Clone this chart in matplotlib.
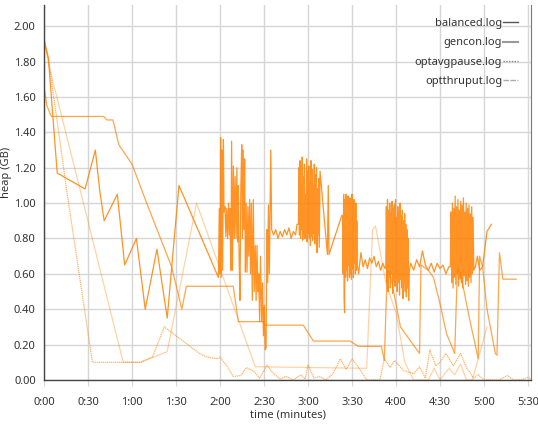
#!/usr/bin/env python3

import matplotlib

matplotlib.use("Agg")

import matplotlib.pyplot as plt
import numpy as np
from matplotlib.lines import Line2D
from matplotlib.ticker import FuncFormatter


LABELS = ["balanced.log", "gencon.log", "optavgpause.log", "optthruput.log"]

# balanced.log: seconds / heap GB, sparse parts and dense bursts
BAL_HEAD_SEC = [0, 3, 9, 28, 35, 38, 41, 50, 55, 63, 69, 77, 84, 92, 118.9]
BAL_HEAD_GB = [1.92, 1.82, 1.17, 1.08, 1.30, 1.07, 0.90, 1.05, 0.65, 0.80, 0.40, 0.74, 0.35, 1.10, 0.58]

BAL_BURST1_SEC = [119.5, 120.0, 120.4, 120.8, 121.3, 121.8, 122.3, 122.7, 123.4, 124.0, 124.6, 125.2,
                  125.8, 126.4, 126.8, 127.4, 127.9, 128.5, 129.1, 129.7, 130.3, 130.9, 131.5, 132.0,
                  132.5, 133.0, 133.6, 134.2, 134.8, 135.3, 135.8, 136.3, 136.8, 137.3, 137.8, 138.4,
                  139.0, 139.6, 140.2, 140.8, 141.4, 142.0, 142.7, 143.3, 144.0, 144.6, 145.2, 145.8,
                  146.4, 147.0, 147.6, 148.4, 149.0, 149.6, 150.2, 150.8, 151.4, 151.9, 152.5, 153.0,
                  153.6, 154.1, 154.6, 155.2]
BAL_BURST1_GB = [0.97, 0.60, 1.37, 0.58, 1.30, 0.62, 1.36, 0.95, 0.98, 0.81, 0.97, 0.80,
                 1.00, 0.82, 0.97, 0.62, 1.35, 0.62, 1.21, 0.80, 1.15, 0.80, 1.20, 0.78,
                 1.10, 0.70, 0.45, 1.10, 1.33, 0.80, 1.30, 0.85, 1.25, 0.61, 1.00, 0.61,
                 0.98, 0.70, 1.02, 0.60, 1.00, 0.45, 1.02, 0.50, 0.76, 0.45, 0.76, 0.50,
                 0.60, 0.33, 0.70, 0.33, 0.55, 0.25, 0.42, 0.17, 0.18, 0.85, 0.55, 0.99,
                 0.60, 0.95, 1.30, 0.85]

BAL_MID1_SEC = [156.5, 158, 159.5, 161, 162.5, 164, 165.5, 167, 168.5, 170, 171.5, 172.5]
BAL_MID1_GB = [0.82, 0.85, 0.80, 0.84, 0.81, 0.85, 0.82, 0.86, 0.80, 0.84, 0.82, 0.88]

BAL_BURST2_SPAN = [173.4, 188.0]
BAL_BURST2_GB = [0.88, 1.20, 0.82, 1.24, 0.80, 1.10, 0.85, 1.26, 0.79, 1.15, 0.82, 1.22, 0.80, 1.05,
                 0.84, 1.25, 0.78, 1.18, 0.83, 1.21, 0.80, 1.12, 0.76, 1.24, 0.81, 1.19, 0.79, 1.10,
                 0.83, 1.22, 0.77, 1.16, 0.80, 1.20, 0.72, 1.08, 0.82, 1.14, 0.75, 1.00]

BAL_MID2_SEC = [188.2, 193.2, 193.8, 194.3, 203.0]
BAL_MID2_GB = [1.18, 0.71, 1.10, 0.71, 0.93]

BAL_BURST3_SPAN = [203.6, 213.6]
BAL_BURST3_GB = [0.93, 0.60, 1.05, 0.45, 0.38, 1.02, 0.58, 1.05, 0.62, 0.98, 0.56, 1.04, 0.65, 1.00,
                 0.58, 1.03, 0.60, 0.95, 0.57, 1.05, 0.63, 0.99, 0.58, 1.02, 0.66, 0.96, 0.60, 1.00,
                 0.62, 0.90, 0.65]

BAL_MID3_SEC = [214.5, 216, 217.5, 219, 220.5, 222, 223.5, 225, 226.5, 228, 229.5, 231, 232.5]
BAL_MID3_GB = [0.60, 0.72, 0.64, 0.68, 0.63, 0.69, 0.66, 0.70, 0.64, 0.67, 0.62, 0.66, 0.63]

BAL_BURST4_SPAN = [233.0, 249.0]
BAL_BURST4_GB = [0.63, 0.98, 0.55, 1.02, 0.50, 0.96, 0.58, 1.00, 0.52, 0.94, 0.60, 1.01, 0.49, 0.97,
                 0.56, 0.99, 0.53, 1.02, 0.58, 0.92, 0.50, 0.98, 0.55, 0.95, 0.48, 1.00, 0.57, 0.93,
                 0.52, 0.96, 0.46, 0.90, 0.55, 0.94, 0.50, 0.88, 0.47, 0.85, 0.52, 0.80, 0.45, 0.62]

BAL_MID4_SEC = [250, 252, 254, 256, 258, 260, 262, 264, 266, 268, 270, 272, 274, 276]
BAL_MID4_GB = [0.66, 0.62, 0.68, 0.64, 0.73, 0.65, 0.62, 0.66, 0.61, 0.66, 0.63, 0.65, 0.60, 0.64]

BAL_BURST5_SPAN = [277.0, 293.0]
BAL_BURST5_GB = [0.64, 0.95, 0.55, 1.00, 0.52, 0.97, 0.58, 1.04, 0.54, 0.98, 0.60, 1.02, 0.53, 0.96,
                 0.57, 1.01, 0.55, 0.99, 0.52, 1.03, 0.59, 0.95, 0.54, 1.00, 0.56, 0.97, 0.53, 0.99,
                 0.58, 0.94, 0.55, 0.98, 0.60, 0.92, 0.62]

BAL_TAIL_SEC = [294, 295.5, 297, 299, 302, 305]
BAL_TAIL_GB = [0.64, 0.70, 0.62, 0.64, 0.84, 0.88]

# gencon.log
GEN_SEC = [0, 2, 5, 40.5, 43, 47, 51, 60, 70, 87, 94, 97, 129, 132.5, 149.5, 150.5, 176.8, 183.6,
           208.6, 214.3, 230, 232, 234, 236, 243, 256, 257, 262, 265.5, 270, 274.5, 280, 281.8,
           284, 290, 296, 297, 299, 302, 307.7, 308.8, 310.5, 312.8, 321.9]
GEN_GB = [1.66, 1.55, 1.49, 1.49, 1.47, 1.47, 1.33, 1.22, 1.00, 0.64, 0.40, 0.53, 0.53, 0.33, 0.33,
          0.31, 0.31, 0.22, 0.22, 0.19, 0.19, 0.11, 0.62, 0.60, 0.30, 0.15, 0.65, 0.62, 0.58, 0.43,
          0.26, 0.15, 0.63, 0.60, 0.35, 0.12, 0.70, 0.64, 0.40, 0.15, 0.14, 0.72, 0.57, 0.57]

# optavgpause.log
AVG_SEC = [0, 3, 15.5, 33, 65.5, 74, 82, 106, 111, 118, 120, 125, 129, 134, 138, 143, 147, 152, 156,
           161, 165, 170, 175, 178, 180, 184, 188, 192, 197, 202, 206, 210, 215, 220, 229, 232, 236,
           239, 245, 252, 256, 260, 263, 267, 270, 274, 279, 284, 288, 293, 296, 300, 310, 316, 320,
           325, 330, 333]
AVG_GB = [1.93, 1.82, 1.07, 0.10, 0.10, 0.13, 0.30, 0.15, 0.13, 0.12, 0.13, 0.075, 0.02, 0.025, 0.07,
          0.05, 0.01, 0.085, 0.04, 0.005, 0.02, 0.0, 0.03, 0.005, 0.085, 0.01, 0.02, 0.0, 0.035, 0.12,
          0.06, 0.12, 0.065, 0.0, 0.0, 0.12, 0.07, 0.11, 0.055, 0.035, 0.075, 0.01, 0.17, 0.08, 0.10,
          0.15, 0.08, 0.15, 0.07, 0.01, 0.03, 0.0, 0.0, 0.025, 0.0, 0.0, 0.015, 0.0]

# optthruput.log
THR_SEC = [0, 3, 24.5, 54, 66, 84, 104, 144, 220, 224, 226, 233, 240, 246, 252, 262, 266, 270, 276,
           280, 284, 288, 292, 302]
THR_GB = [1.93, 1.79, 1.08, 0.10, 0.10, 0.16, 1.00, 0.075, 0.066, 0.85, 0.87, 0.55, 0.38, 0.10, 0.0,
          0.0, 0.066, 0.0, 0.066, 0.03, 0.09, 0.0, 0.0, 0.30]

X_TICKS = [0, 30, 60, 90, 120, 150, 180, 210, 240, 270, 300, 330]
Y_TICKS = [0.0, 0.2, 0.4, 0.6, 0.8, 1.0, 1.2, 1.4, 1.6, 1.8, 2.0]

ORANGE = "#ff8000"


def _burst(span, values):
    return np.linspace(span[0], span[1], len(values)), np.asarray(values)


def _balanced_series():
    parts = [
        (BAL_HEAD_SEC, BAL_HEAD_GB),
        (BAL_BURST1_SEC, BAL_BURST1_GB),
        (BAL_MID1_SEC, BAL_MID1_GB),
        _burst(BAL_BURST2_SPAN, BAL_BURST2_GB),
        (BAL_MID2_SEC, BAL_MID2_GB),
        _burst(BAL_BURST3_SPAN, BAL_BURST3_GB),
        (BAL_MID3_SEC, BAL_MID3_GB),
        _burst(BAL_BURST4_SPAN, BAL_BURST4_GB),
        (BAL_MID4_SEC, BAL_MID4_GB),
        _burst(BAL_BURST5_SPAN, BAL_BURST5_GB),
        (BAL_TAIL_SEC, BAL_TAIL_GB),
    ]
    sec = np.concatenate([np.asarray(p[0], dtype=float) for p in parts])
    gb = np.concatenate([np.asarray(p[1], dtype=float) for p in parts])
    return sec, gb


def _fmt_time(x, pos):
    m, s = divmod(int(round(x)), 60)
    return "%d:%02d" % (m, s)


def main():
    plt.rcParams["font.family"] = ["Noto Sans", "DejaVu Sans"]
    fig = plt.figure(figsize=(5.38, 4.30), dpi=100)
    ax = fig.add_axes([44 / 538, 1 - 380 / 430, 487 / 538, 375 / 430])

    bal_sec, bal_gb = _balanced_series()
    ax.plot(THR_SEC, THR_GB, color=ORANGE, alpha=0.35, linewidth=0.9)
    ax.plot(AVG_SEC, AVG_GB, color=ORANGE, alpha=0.6, linewidth=0.9, linestyle=(0, (1, 0.6)))
    ax.plot(GEN_SEC, GEN_GB, color=ORANGE, alpha=0.7, linewidth=0.9)
    ax.plot(bal_sec, bal_gb, color=ORANGE, alpha=0.85, linewidth=0.9)

    ax.set_xlim(0, 332)
    ax.set_ylim(0, 2.12)
    ax.set_xticks(X_TICKS)
    ax.xaxis.set_major_formatter(FuncFormatter(_fmt_time))
    ax.set_yticks(Y_TICKS)
    ax.set_yticklabels(["%.2f" % v for v in Y_TICKS])
    ax.grid(color="#d6d6d6", linewidth=1.0)
    ax.set_axisbelow(True)

    ax.tick_params(axis="x", length=4, color="#d6d6d6", pad=8, labelsize=8, labelcolor="#333333")
    ax.tick_params(axis="y", length=0, pad=6, labelsize=8, labelcolor="#333333")
    for side in ["left", "bottom"]:
        ax.spines[side].set_color("#444444")
        ax.spines[side].set_linewidth(1.0)
    ax.spines["right"].set_color("#777777")
    ax.spines["top"].set_visible(False)

    ax.set_xlabel("time (minutes)", fontsize=8, color="#333333", labelpad=1)
    ax.set_ylabel("heap (GB)", fontsize=8, color="#333333")
    ax.yaxis.set_label_coords(-0.066, 0.555)

    handles = [
        Line2D([], [], color="#555555", linewidth=1.0),
        Line2D([], [], color="#999999", linewidth=1.5),
        Line2D([], [], color="#888888", linewidth=1.0, linestyle=(0, (1, 1))),
        Line2D([], [], color="#aaaaaa", linewidth=1.0, linestyle=(0, (4, 1))),
    ]
    leg = ax.legend(handles, LABELS, loc="upper right", bbox_to_anchor=(0.973, 0.965),
                    frameon=False, markerfirst=False, fontsize=8, handlelength=1.3,
                    handletextpad=0.1, labelspacing=0.75, borderpad=0, borderaxespad=0)
    for text in leg.get_texts():
        text.set_color("#333333")

    fig.savefig("out.png", dpi=100)
    plt.close(fig)


if __name__ == "__main__":
    main()
